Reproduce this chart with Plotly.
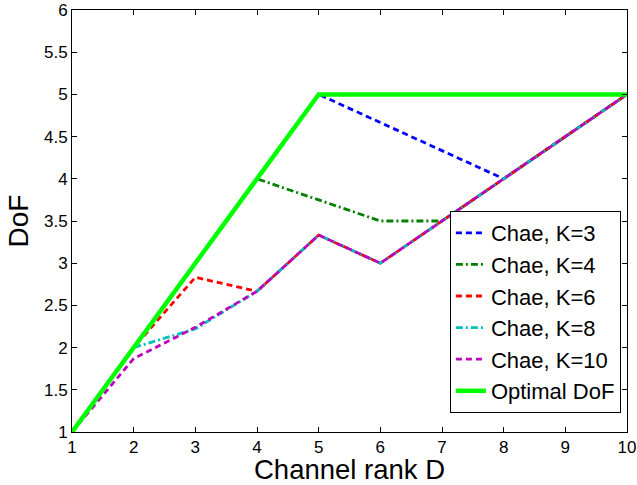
import plotly.graph_objects as go

D = [1, 2, 3, 4, 5, 6, 7, 8, 9, 10]
chae_k3 = [1, 2, 3, 4, 5, 4.667, 4.333, 4, 4.5, 5]
chae_k4 = [1, 2, 3, 4, 3.75, 3.5, 3.5, 4, 4.5, 5]
chae_k6 = [1, 2, 2.833, 2.667, 3.333, 3, 3.5, 4, 4.5, 5]
chae_k8 = [1, 2, 2.222, 2.667, 3.333, 3, 3.5, 4, 4.5, 5]
chae_k10 = [1, 1.87, 2.24, 2.667, 3.333, 3, 3.5, 4, 4.5, 5]
optimal = [1, 2, 3, 4, 5, 5, 5, 5, 5, 5]
y_ticks = [1, 1.5, 2, 2.5, 3, 3.5, 4, 4.5, 5, 5.5, 6]
y_tick_text = ["1", "1.5", "2", "2.5", "3", "3.5", "4", "4.5", "5", "5.5", "6"]

series = [
    ("Chae, K=3", chae_k3, "#0000FF", "6px,4px", 2.8),
    ("Chae, K=4", chae_k4, "#008000", "7px,3px,2px,3px", 2.8),
    ("Chae, K=6", chae_k6, "#FF0000", "6px,4px", 2.8),
    ("Chae, K=8", chae_k8, "#00BFBF", "7px,3px,2px,3px", 2.8),
    ("Chae, K=10", chae_k10, "#BF00BF", "6px,4px", 2.8),
    ("Optimal DoF", optimal, "#00FF00", "solid", 4.5),
]

fig = go.Figure()
for name, ys, color, dash, w in series:
    fig.add_trace(go.Scatter(x=D, y=ys, mode="lines", name=name,
                             line=dict(color=color, dash=dash, width=w)))

font_family = "Liberation Sans, Arial, Helvetica, sans-serif"
axis_common = dict(
    showgrid=False, zeroline=False, showline=True, linecolor="black",
    linewidth=1, mirror="ticks", ticks="inside", ticklen=5, tickcolor="black",
    tickfont=dict(size=17, color="black", family=font_family),
    automargin=False,
)

fig.update_layout(
    width=637, height=485,
    margin=dict(l=72, r=10, t=10, b=53, autoexpand=False),
    paper_bgcolor="white", plot_bgcolor="white",
    font=dict(family=font_family, color="black"),
    xaxis=dict(range=[1, 10], tickvals=D, ticktext=[str(v) for v in D],
               **axis_common),
    yaxis=dict(range=[1, 6], tickvals=y_ticks, ticktext=y_tick_text,
               **axis_common),
    legend=dict(x=0.989, y=0.045, xanchor="right", yanchor="bottom",
                bordercolor="black", borderwidth=1, bgcolor="white",
                font=dict(size=22, color="black"), itemwidth=30,
                tracegroupgap=0),
    showlegend=True,
    annotations=[
        dict(text="Channel rank D", xref="paper", yref="paper", x=0.5, y=-0.0878,
             xanchor="center", yanchor="middle", showarrow=False,
             font=dict(size=27.5, color="black")),
        dict(text="DoF", xref="paper", yref="paper", x=-0.0964, y=0.5,
             xanchor="center", yanchor="middle", showarrow=False, textangle=-90,
             font=dict(size=28, color="black")),
    ],
)

# remove the browser's default 8px page margin so the figure fills the window
fig.write_html("out.html",
               config={"displayModeBar": False},
               post_script="document.body.style.margin='0';document.body.style.overflow='hidden';")
